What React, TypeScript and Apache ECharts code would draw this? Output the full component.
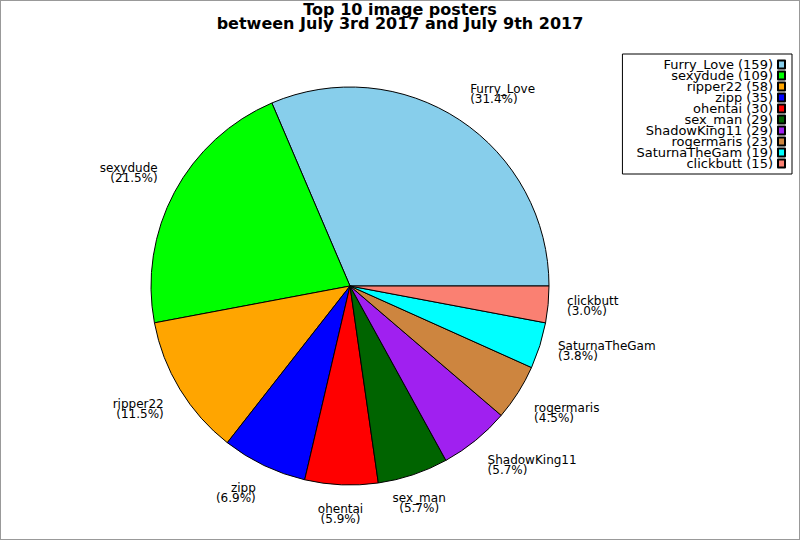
import React, { useEffect, useRef } from "react";
import * as echarts from "echarts";

const names = ["Furry_Love", "sexydude", "ripper22", "zipp", "ohentai", "sex_man", "ShadowKing11", "rogermaris", "SaturnaTheGam", "clickbutt"];
const values = [159, 109, 58, 35, 30, 29, 29, 23, 19, 15];
const colors = ["#87CEEB", "#00FF00", "#FFA500", "#0000FF", "#FF0000", "#006400", "#A020F0", "#CD853F", "#00FFFF", "#FA8072"];
const titleText = "Top 10 image posters\nbetween July 3rd 2017 and July 9th 2017";

const CX = 350;
const CY = 286;
const RADIUS = 199;
const LABEL_R = 218;

export default function App() {
  const ref = useRef<HTMLDivElement>(null);
  useEffect(() => {
    document.body.style.margin = "0";
    if (!ref.current) return;
    const chart = echarts.init(ref.current, null, { renderer: "svg" });
    const total = values.reduce((a, b) => a + b, 0);
    const starts: number[] = [];
    values.reduce((acc, v, i) => {
      starts[i] = acc;
      return acc + v;
    }, 0);
    const font = "DejaVu Sans";
    chart.setOption({
      animation: false,
      backgroundColor: "transparent",
      title: {
        text: titleText,
        left: "center",
        top: 2,
        padding: 0,
        textStyle: { fontFamily: font, fontSize: 16, fontWeight: "bold", lineHeight: 14, color: "#000" },
      },
      legend: {
        orient: "vertical",
        right: 8,
        top: 54,
        align: "right",
        padding: [4, 6, 4, 14],
        borderColor: "#000",
        borderWidth: 1,
        itemWidth: 7,
        itemHeight: 8,
        itemGap: -2,
        icon: "rect",
        data: names,
        formatter: (n: string) => `${n} (${values[names.indexOf(n)]})`,
        textStyle: { fontFamily: font, fontSize: 13, lineHeight: 11, color: "#000" },
      },
      series: [
        {
          type: "pie",
          center: [CX, CY],
          radius: RADIUS,
          startAngle: 0,
          clockwise: false,
          avoidLabelOverlap: false,
          emphasis: { disabled: true },
          itemStyle: { borderColor: "#000", borderWidth: 1 },
          label: {
            show: true,
            position: "outside",
            fontFamily: font,
            fontSize: 12,
            lineHeight: 10,
            color: "#000",
            formatter: (p: any) => `${p.name}\n(${((p.value / total) * 100).toFixed(1)}%)`,
          },
          labelLine: { show: false },
          labelLayout: (p: any) => {
            const i = p.dataIndex;
            const mid = ((starts[i] + values[i] / 2) / total) * Math.PI * 2;
            const c = Math.cos(mid);
            const s = Math.sin(mid);
            return {
              x: CX + LABEL_R * c,
              y: CY - LABEL_R * s,
              align: Math.abs(c) < 0.35 ? "center" : c > 0 ? "left" : "right",
              verticalAlign: Math.abs(s) < 0.4 ? "middle" : s > 0 ? "bottom" : "top",
            };
          },
          data: names.map((n, i) => ({ name: n, value: values[i], itemStyle: { color: colors[i] } })),
        },
      ],
    });
    return () => chart.dispose();
  }, []);
  return (
    <div
      ref={ref}
      style={{ width: 800, height: 540, background: "#fff", boxShadow: "inset 0 0 0 1px #999" }}
    />
  );
}
